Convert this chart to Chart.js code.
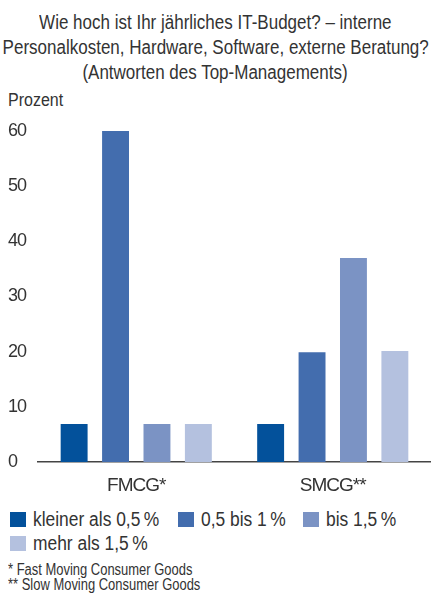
<!DOCTYPE html>
<html lang="de">
<head>
<meta charset="utf-8">
<script src="https://cdn.jsdelivr.net/npm/chart.js@4/dist/chart.umd.min.js"></script>
<style>
  html, body { margin: 0; padding: 0; background: #fff; }
  body { width: 431px; height: 593px; position: relative; overflow: hidden;
         font-family: "Liberation Sans", Arial, sans-serif; color: #333; }
  .narrow { display: inline-block; white-space: nowrap; }
  #title { position: absolute; left: 0; top: 10px; width: 431px;
           font-size: 20px; line-height: 25px; }
  #title .line { display: flex; justify-content: center; width: 431px; height: 25px; }
  #title .narrow { flex: none; transform: scaleX(0.85); transform-origin: center; }
  #unit { position: absolute; left: 8px; top: 89px; font-size: 18px; line-height: 22px; }
  #unit .narrow { transform: scaleX(0.89); transform-origin: left; }
  #wrap { position: absolute; left: 0; top: 0; width: 431px; height: 500px; }
  #legend { position: absolute; left: 10px; top: 507px; display: grid;
            grid-template-columns: 168px 125px 118px; font-size: 20px; line-height: 24px; }
  .item { display: flex; align-items: flex-start; white-space: nowrap; }
  .box { width: 16px; height: 15px; margin-top: 5px; margin-right: 7px; flex: none; }
  .item .narrow { transform: scaleX(0.87); transform-origin: left; }
  #notes { position: absolute; left: 8px; top: 562px; font-size: 16px; line-height: 15px; }
  #notes .narrow { transform: scaleX(0.81); transform-origin: left; }
</style>
</head>
<body>
<div id="title">
  <div class="line"><span class="narrow">Wie hoch ist Ihr jährliches IT-Budget? – interne</span></div>
  <div class="line"><span class="narrow">Personalkosten, Hardware, Software, externe Beratung?</span></div>
  <div class="line"><span class="narrow">(Antworten des Top-Managements)</span></div>
</div>
<div id="unit"><span class="narrow">Prozent</span></div>
<div id="wrap"><canvas id="chart"></canvas></div>
<div id="legend"></div>
<div id="notes">
  <span class="narrow">* Fast Moving Consumer Goods</span><br>
  <span class="narrow">** Slow Moving Consumer Goods</span>
</div>
<script>
// Branch groups on the x axis
const categories = ['FMCG*', 'SMCG**'];

// Budget classes (share of revenue) and their colours
const seriesNames = ['kleiner als 0,5\u2009%', '0,5 bis 1\u2009%', 'bis 1,5\u2009%', 'mehr als 1,5\u2009%'];
const seriesColors = ['#03519b', '#436dae', '#7b93c4', '#b4c1df'];

// Answers in percent, per budget class: [FMCG, SMCG]
const lessThan05 = [6.9, 6.9];
const from05to1 = [60, 19.9];
const upTo15 = [6.9, 37];
const moreThan15 = [6.9, 20.1];
const seriesValues = [lessThan05, from05to1, upTo15, moreThan15];

// Y axis ticks
const yTicks = [0, 10, 20, 30, 40, 50, 60];

const fontFamily = '"Liberation Sans", Arial, sans-serif';

// Tighter letter spacing for the axis labels
const condensedText = {
  id: 'condensedText',
  beforeDraw(chart) { chart.ctx.letterSpacing = '-1px'; }
};

new Chart(document.getElementById('chart'), {
  type: 'bar',
  data: {
    labels: categories,
    datasets: seriesNames.map((name, i) => ({
      label: name,
      data: seriesValues[i],
      backgroundColor: seriesColors[i],
      borderWidth: 0,
      categoryPercentage: 0.843,
      barPercentage: 0.65
    }))
  },
  plugins: [condensedText],
  options: {
    responsive: true,
    maintainAspectRatio: false,
    animation: false,
    layout: { padding: { left: 8, right: 0, top: 131, bottom: 0 } },
    plugins: { legend: { display: false }, tooltip: { enabled: false }, title: { display: false } },
    scales: {
      x: {
        grid: { display: false, drawTicks: false },
        border: { display: true, color: '#444', width: 1.5 },
        ticks: { color: '#333', padding: 12, font: { family: fontFamily, size: 19 } },
        afterFit: (s) => { s.height = 38; }
      },
      y: {
        min: 0,
        max: 60,
        grid: { display: false, drawTicks: false },
        border: { display: false },
        afterBuildTicks: (s) => { s.ticks = yTicks.map(v => ({ value: v })); },
        ticks: { color: '#333', crossAlign: 'far', padding: 0, font: { family: fontFamily, size: 18 } },
        afterFit: (s) => { s.width = 30; }
      }
    }
  }
});

// Legend built from the series names and colours
const legend = document.getElementById('legend');
seriesNames.forEach((name, i) => {
  const item = document.createElement('div');
  item.className = 'item';
  const box = document.createElement('span');
  box.className = 'box';
  box.style.background = seriesColors[i];
  const txt = document.createElement('span');
  txt.className = 'narrow';
  txt.textContent = name;
  item.appendChild(box);
  item.appendChild(txt);
  legend.appendChild(item);
});
</script>
</body>
</html>
